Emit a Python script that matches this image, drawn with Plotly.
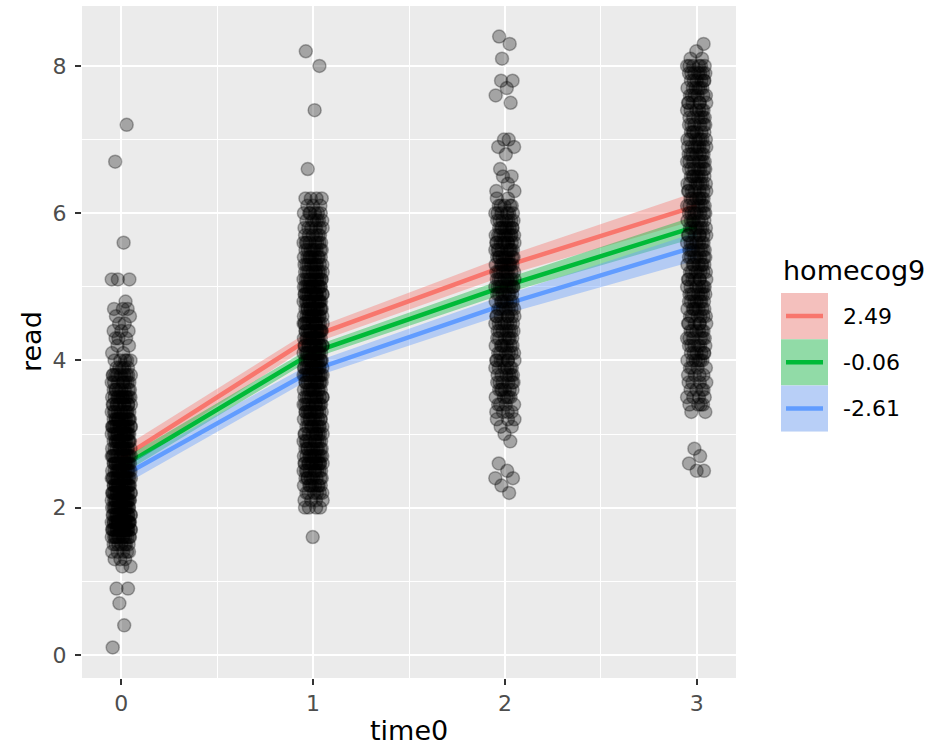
import plotly.graph_objects as go

# ---------------- data ----------------
time_levels = [0, 1, 2, 3]

# observed read scores at each time point (value, number of children)
t0_read = [0.1, 0.4, 0.7, 0.9, 1.2, 1.3, 1.4, 1.5, 1.6, 1.7, 1.8, 1.9, 2.0, 2.1, 2.2, 2.3, 2.4,
           2.5, 2.6, 2.7, 2.8, 2.9, 3.0, 3.1, 3.2, 3.3, 3.4, 3.5, 3.6, 3.7, 3.8, 3.9, 4.0, 4.1,
           4.2, 4.3, 4.4, 4.5, 4.6, 4.7, 4.8, 5.1, 5.6, 6.7, 7.2]
t0_count = [1, 1, 1, 2, 2, 3, 5, 7, 12, 20, 20, 15, 15, 15, 17, 15, 15,
            14, 14, 12, 12, 13, 13, 15, 13, 10, 10, 12, 8, 8, 9, 5, 5, 2,
            2, 3, 3, 2, 2, 3, 1, 3, 1, 1, 1]

t1_read = [1.6, 2.0, 2.1, 2.2, 2.3, 2.4, 2.5, 2.6, 2.7, 2.8, 2.9, 3.0, 3.1, 3.2, 3.3, 3.4, 3.5,
           3.6, 3.7, 3.8, 3.9, 4.0, 4.1, 4.2, 4.3, 4.4, 4.5, 4.6, 4.7, 4.8, 4.9, 5.0, 5.1, 5.2,
           5.3, 5.4, 5.5, 5.6, 5.7, 5.8, 5.9, 6.0, 6.1, 6.2, 6.6, 7.4, 8.0, 8.2]
t1_count = [1, 4, 4, 6, 8, 8, 9, 12, 11, 9, 9, 9, 9, 9, 10, 10, 10,
            10, 10, 12, 12, 12, 12, 12, 12, 12, 12, 12, 12, 12, 12, 12, 11, 9,
            9, 9, 8, 8, 6, 6, 6, 6, 3, 4, 1, 1, 1, 1]

t2_read = [2.2, 2.3, 2.4, 2.5, 2.6, 2.9, 3.0, 3.1, 3.2, 3.3, 3.4, 3.5, 3.6, 3.7, 3.8, 3.9, 4.0,
           4.1, 4.2, 4.3, 4.4, 4.5, 4.6, 4.7, 4.8, 4.9, 5.0, 5.1, 5.2, 5.3, 5.4, 5.5, 5.6, 5.7,
           5.8, 5.9, 6.0, 6.1, 6.2, 6.3, 6.4, 6.5, 6.6, 6.8, 6.9, 7.0, 7.5, 7.6, 7.7, 7.8, 8.1,
           8.3, 8.4]
t2_count = [1, 1, 2, 1, 1, 1, 1, 2, 3, 4, 4, 5, 6, 6, 6, 6, 7,
            6, 7, 6, 7, 7, 7, 7, 7, 7, 9, 9, 8, 9, 9, 9, 9, 9,
            8, 7, 6, 5, 2, 2, 1, 2, 1, 1, 2, 2, 1, 1, 1, 2, 1,
            1, 1]

t3_read = [2.5, 2.6, 2.7, 2.8, 3.3, 3.4, 3.5, 3.6, 3.7, 3.8, 3.9, 4.0, 4.1, 4.2, 4.3, 4.4, 4.5,
           4.6, 4.7, 4.8, 4.9, 5.0, 5.1, 5.2, 5.3, 5.4, 5.5, 5.6, 5.7, 5.8, 5.9, 6.0, 6.1, 6.2,
           6.3, 6.4, 6.5, 6.6, 6.7, 6.8, 6.9, 7.0, 7.1, 7.2, 7.3, 7.4, 7.5, 7.6, 7.7, 7.8, 7.9,
           8.0, 8.1, 8.2, 8.3]
t3_count = [2, 1, 1, 1, 2, 4, 4, 4, 4, 4, 4, 6, 6, 6, 6, 6, 6,
            6, 7, 7, 7, 7, 7, 7, 7, 7, 7, 7, 7, 7, 7, 7, 7, 7,
            7, 7, 7, 7, 7, 7, 7, 7, 6, 6, 6, 6, 6, 6, 6, 6, 7,
            6, 2, 1, 1]

# model predictions for three levels of homecog9
group_labels = ["2.49", "-0.06", "-2.61"]
fit_high = [2.67, 4.33, 5.28, 6.10]
fit_mid = [2.55, 4.11, 5.01, 5.82]
fit_low = [2.42, 3.87, 4.76, 5.55]
se_high = [0.13, 0.10, 0.13, 0.19]
se_mid = [0.10, 0.08, 0.10, 0.15]
se_low = [0.13, 0.10, 0.13, 0.19]

# jitter pattern for horizontal spreading of points
jitter_pattern = [-0.045, 0.015, -0.01, 0.035, -0.025, 0.005, 0.048, -0.035, 0.02, -0.005,
                  0.03, -0.048, 0.01, -0.02, 0.04, -0.015, 0.025, -0.03, 0.0, 0.038,
                  -0.04, 0.018, -0.012, 0.045, -0.028, 0.008, 0.033, -0.038, 0.022, -0.018,
                  0.042, -0.05, 0.012, -0.032, 0.028, -0.002, 0.036, -0.022, 0.016, -0.042, 0.05]

# ---------------- styling ----------------
line_colors = ["#F8766D", "#00BA38", "#619CFF"]
ribbon_colors = ["rgba(248,118,109,0.4)", "rgba(0,186,56,0.4)", "rgba(97,156,255,0.4)"]
FONT = "DejaVu Sans"

W, H = 941, 749
ML, MR, MT, MB = 82, 205, 6, 71
PW, PH = W - ML - MR, H - MT - MB


def xp(px):
    return (px - ML) / PW


def yp(py):
    return (H - MB - py) / PH


fig = go.Figure()

fits = [fit_high, fit_mid, fit_low]
ses = [se_high, se_mid, se_low]
for fit, se, lc, rc in zip(fits, ses, line_colors, ribbon_colors):
    upper = [f + s for f, s in zip(fit, se)]
    lower = [f - s for f, s in zip(fit, se)]
    fig.add_trace(go.Scatter(
        x=time_levels + time_levels[::-1], y=upper + lower[::-1],
        mode="lines", fill="toself", fillcolor=rc, line=dict(width=0),
        hoverinfo="skip", showlegend=False))
    fig.add_trace(go.Scatter(
        x=time_levels, y=fit, mode="lines",
        line=dict(color=lc, width=4.5), showlegend=False))

xs, ys = [], []
k = 0
for t, vals, cnts in zip(time_levels,
                         [t0_read, t1_read, t2_read, t3_read],
                         [t0_count, t1_count, t2_count, t3_count]):
    assert len(vals) == len(cnts)
    for v, c in zip(vals, cnts):
        for _ in range(c):
            xs.append(t + jitter_pattern[k % len(jitter_pattern)])
            ys.append(v)
            k += 1

fig.add_trace(go.Scatter(
    x=xs, y=ys, mode="markers",
    marker=dict(size=13, color="rgba(0,0,0,0.3)",
                line=dict(color="rgba(0,0,0,0.3)", width=1.5)),
    showlegend=False))

axis_common = dict(
    showgrid=True, gridcolor="white", gridwidth=2.2,
    zeroline=False, showline=False,
    ticks="outside", ticklen=6, tickwidth=2, tickcolor="#333333",
    tickfont=dict(family=FONT, size=22, color="#4D4D4D"),
)

fig.update_xaxes(range=[-0.205, 3.205], tickvals=[0, 1, 2, 3], ticktext=["0", "1", "2", "3"],
                 minor=dict(tickvals=[0.5, 1.5, 2.5], showgrid=True, gridcolor="white",
                            gridwidth=1.1, ticks=""),
                 **axis_common)
fig.update_yaxes(range=[-0.315, 8.815], tickvals=[0, 2, 4, 6, 8], ticktext=["0", "2", "4", "6", "8"],
                 minor=dict(tickvals=[1, 3, 5, 7], showgrid=True, gridcolor="white",
                            gridwidth=1.1, ticks=""),
                 ticklabelstandoff=4,
                 **axis_common)

annotations = [
    dict(text="read", x=xp(31), y=0.5, xref="paper", yref="paper", showarrow=False,
         textangle=-90, xanchor="center", yanchor="middle",
         font=dict(family=FONT, size=27, color="black")),
    dict(text="time0", x=0.5, y=yp(730), xref="paper", yref="paper", showarrow=False,
         xanchor="center", yanchor="middle",
         font=dict(family=FONT, size=27, color="black")),
    dict(text="homecog9", x=xp(781), y=yp(270), xref="paper", yref="paper", showarrow=False,
         xanchor="left", yanchor="middle",
         font=dict(family=FONT, size=27, color="black")),
]

shapes = []
key_top, key_h, key_l, key_r = 293, 46.2, 781, 828
for i, (lab, lc, rc) in enumerate(zip(group_labels, line_colors, ribbon_colors)):
    y0 = key_top + i * key_h
    y1 = y0 + key_h
    yc = (y0 + y1) / 2
    shapes.append(dict(type="rect", xref="paper", yref="paper",
                       x0=xp(key_l), x1=xp(key_r), y0=yp(y1), y1=yp(y0),
                       fillcolor="#F2F2F2", line=dict(width=0), layer="above"))
    shapes.append(dict(type="rect", xref="paper", yref="paper",
                       x0=xp(key_l), x1=xp(key_r), y0=yp(y1), y1=yp(y0),
                       fillcolor=rc, line=dict(width=0), layer="above"))
    shapes.append(dict(type="line", xref="paper", yref="paper",
                       x0=xp(786), x1=xp(823), y0=yp(yc), y1=yp(yc),
                       line=dict(color=lc, width=4.5), layer="above"))
    annotations.append(dict(text=lab, x=xp(841), y=yp(yc), xref="paper", yref="paper",
                            showarrow=False, xanchor="left", yanchor="middle",
                            font=dict(family=FONT, size=22, color="black")))

fig.update_layout(
    width=W, height=H,
    margin=dict(l=ML, r=MR, t=MT, b=MB, pad=0),
    plot_bgcolor="#EBEBEB", paper_bgcolor="white",
    font=dict(family=FONT),
    showlegend=False,
    annotations=annotations,
    shapes=shapes,
)

fig.write_html("out.html")
